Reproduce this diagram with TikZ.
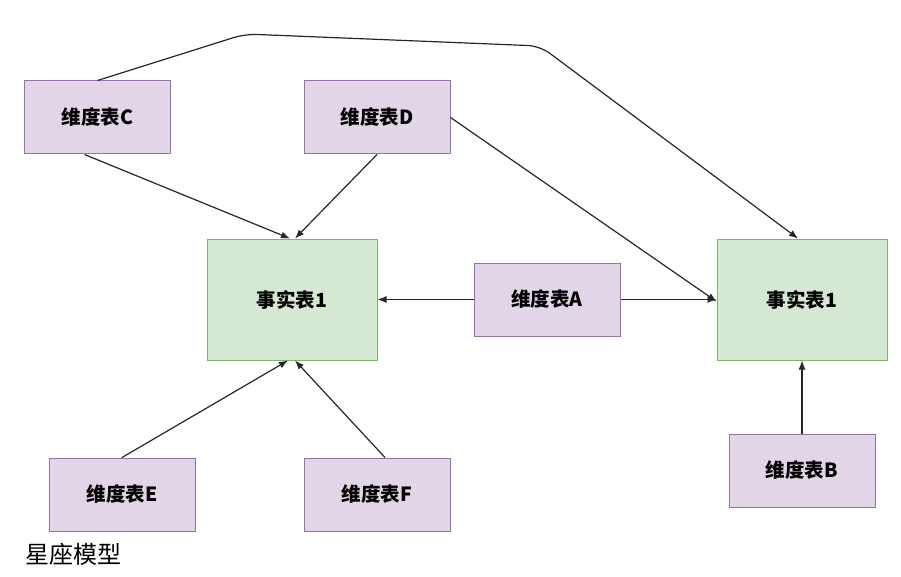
\documentclass[tikz,border=0pt]{standalone}
\usepackage{fontspec}
\newfontfamily\cjk{Noto Sans CJK SC}
\usepackage{tikz}
\usetikzlibrary{arrows.meta,positioning,calc}
\definecolor{dimfill}{RGB}{225,213,231}
\definecolor{dimline}{RGB}{150,115,166}
\definecolor{factfill}{RGB}{213,232,212}
\definecolor{factline}{RGB}{130,179,102}
\tikzset{
    link/.style={-{Latex[length=9pt, width=7pt]}, line width=1.2pt, black!85},
    dim/.style={draw=dimline, line width=1pt, fill=dimfill, minimum width=146pt, minimum height=73pt, inner sep=0pt, font=\cjk\bfseries\fontsize{19.5}{22}\selectfont},
    fact/.style={draw=factline, line width=1pt, fill=factfill, minimum width=170pt, minimum height=121pt, inner sep=0pt, font=\cjk\bfseries\fontsize{19.5}{22}\selectfont}
}
\begin{document}
\begin{tikzpicture}[x=1pt, y=-1pt]
                    \useasboundingbox (0,0) rectangle (901,577);
                    \node[fact] (f1) at (292,299.5) {事实表1};
                    \node[fact] (f2) at (802,299.5) {事实表1};
                    \node[dim] (dc) at (97.5,117.5) {维度表C};
                    \node[dim] (dd) at (377,117.5) {维度表D};
                    \node[dim] (da) at (547,299.5) {维度表A};
                    \node[dim] (de) at (122,494.5) {维度表E};
                    \node[dim] (df) at (377,494.5) {维度表F};
                    \node[dim] (db) at (802,470.5) {维度表B};
                    \node[font=\cjk\fontsize{24}{26}\selectfont, anchor=west, inner sep=0pt] (cap) at (25,554) {星座模型};

                    \coordinate (bend1) at (245,34);
                    \coordinate (bend2) at (540,46);

                    \draw[link] ([xshift=-13pt]dc.south) -- ([xshift=-2pt]f1.north);
                    \draw[link] (dd.south) -- ([xshift=3pt]f1.north);
                    \draw[link] (da.west) -- (f1.east);
                    \draw[link] (da.east) -- (f2.west);
                    \draw[link] (dd.east) -- ([yshift=-2pt]f2.west);
                    \draw[link] (de.north) -- ([xshift=-4pt]f1.south);
                    \draw[link] ([xshift=8pt]df.north) -- ([xshift=3pt]f1.south);
                    \draw[link] (db.north) -- (f2.south);
                    \draw[link, rounded corners=12pt] (dc.north) -- (bend1) -- (bend2) -- ([xshift=-4pt]f2.north);
                \end{tikzpicture}
\end{document}
